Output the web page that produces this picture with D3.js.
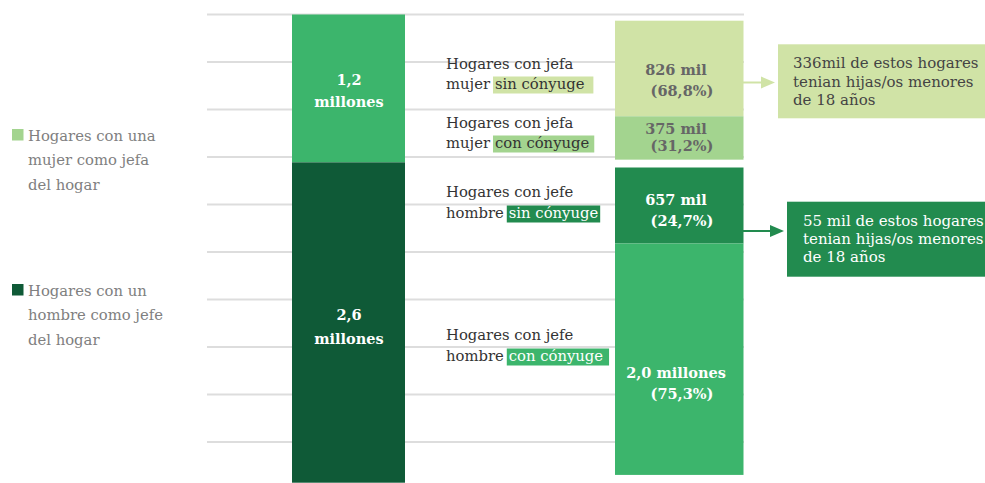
<!DOCTYPE html>
<html>
<head>
<meta charset="utf-8">
<script src="https://cdn.jsdelivr.net/npm/d3@7"></script>
<style>
  html, body { margin: 0; padding: 0; background: #fff; }
  svg { display: block; }
  text { font-family: "DejaVu Serif", serif; }
</style>
</head>
<body>
<svg id="chart" width="985" height="483"></svg>
<script>
// ---------------- DATA ----------------
const headCategories = ["mujer", "hombre"];
const headValues = [1.2, 2.6];                 // millions
const headLabels = [["1,2", "millones"], ["2,6", "millones"]];

const legendLabels = [
  ["Hogares con una", "mujer como jefa", "del hogar"],
  ["Hogares con un", "hombre como jefe", "del hogar"]
];

const subGroups = ["mujer", "mujer", "hombre", "hombre"];
const subCategories = ["sin cónyuge", "con cónyuge", "sin cónyuge", "con cónyuge"];
const subValues = [826, 375, 657, 2000];       // thousands
const subValueLabels = ["826 mil", "375 mil", "657 mil", "2,0 millones"];
const subPctLabels = ["(68,8%)", "(31,2%)", "(24,7%)", "(75,3%)"];
const subTitleLines = [
  ["Hogares con jefa", "mujer"],
  ["Hogares con jefa", "mujer"],
  ["Hogares con jefe", "hombre"],
  ["Hogares con jefe", "hombre"]
];

const calloutValues = [336, 55];
const calloutLines = [
  ["336mil de estos hogares", "tenian hijas/os menores", "de 18 años"],
  ["55 mil de estos hogares", "tenian hijas/os menores", "de 18 años"]
];

const gridLines = d3.range(10);

// ---------------- STYLE ----------------
const C = {
  medium: "#3cb56c",
  dark: "#0f5a37",
  lime: "#d0e3a6",
  light: "#a3d48f",
  deep: "#228b4f",
  grid: "#dddddd"
};
const headColors = [C.medium, C.dark];
const legendColors = [C.light, C.dark];
const subColors = [C.lime, C.light, C.deep, C.medium];
const subTextColors = ["#666666", "#666666", "#ffffff", "#ffffff"];
const highlightColors = [C.lime, C.light, C.deep, C.medium];
const highlightText = ["#333333", "#333333", "#ffffff", "#ffffff"];
const highlightPadR = [9, 5, 2, 6];
const calloutFill = [C.lime, C.deep];
const calloutText = ["#444444", "#ffffff"];

const svg = d3.select("#chart");

// gridlines
const yGrid = d3.scaleLinear().domain([0, 9]).range([14.5, 442]);
svg.append("g").selectAll("line").data(gridLines).join("line")
  .attr("x1", 207).attr("x2", 744)
  .attr("y1", d => yGrid(d)).attr("y2", d => yGrid(d))
  .attr("stroke", C.grid).attr("stroke-width", 2.2);

// left stacked bar
const yL = d3.scaleLinear().domain([0, d3.sum(headValues)]).range([14.5, 482.7]);
const headCum = d3.cumsum([0, ...headValues]);
const left = svg.append("g");
left.selectAll("rect").data(headValues).join("rect")
  .attr("x", 292).attr("width", 113)
  .attr("y", (d, i) => yL(headCum[i]))
  .attr("height", (d, i) => yL(headCum[i] + d) - yL(headCum[i]))
  .attr("fill", (d, i) => headColors[i]);

const headLabelY = [[85, 107], [320, 344]];
headLabels.forEach((lines, i) => {
  lines.forEach((t, j) => {
    left.append("text").attr("x", 349).attr("y", headLabelY[i][j])
      .attr("text-anchor", "middle").attr("fill", "#fff")
      .attr("font-weight", "bold").attr("font-size", 14.5).text(t);
  });
});

// legend
const legendY = [129, 284];
legendLabels.forEach((lines, i) => {
  const g = svg.append("g");
  g.append("rect").attr("x", 12).attr("y", legendY[i]).attr("width", 11.5).attr("height", 11.5)
    .attr("fill", legendColors[i]);
  lines.forEach((t, j) => {
    g.append("text").attr("x", 28).attr("y", legendY[i] + 12 + j * 24.3)
      .attr("fill", "#808080").attr("font-size", 14.8).text(t);
  });
});

// right stacked bars (two groups)
const yR = d3.scaleLinear().domain([0, 1000]).range([0, 115.7]);
const groupTop = { mujer: 20.7, hombre: 167.5 };
const subPos = [];
const acc = { mujer: 0, hombre: 0 };
subValues.forEach((v, i) => {
  const g = subGroups[i];
  const y0 = groupTop[g] + yR(acc[g]);
  const h = yR(v);
  subPos.push({ y0, h });
  acc[g] += v;
});
const right = svg.append("g");
right.selectAll("rect").data(subValues).join("rect")
  .attr("x", 615).attr("width", 128.5)
  .attr("y", (d, i) => subPos[i].y0)
  .attr("height", (d, i) => subPos[i].h)
  .attr("fill", (d, i) => subColors[i]);

const subLabelY = [[75, 96], [134, 151], [205, 226], [378, 399]];
subValues.forEach((v, i) => {
  right.append("text").attr("x", 676).attr("y", subLabelY[i][0])
    .attr("text-anchor", "middle").attr("fill", subTextColors[i])
    .attr("font-weight", "bold").attr("font-size", 14.5).text(subValueLabels[i]);
  right.append("text").attr("x", 682).attr("y", subLabelY[i][1])
    .attr("text-anchor", "middle").attr("fill", subTextColors[i])
    .attr("font-weight", "bold").attr("font-size", 14.5).text(subPctLabels[i]);
});

// middle category labels
const midY = [[69, 89], [128, 148], [197, 218], [340, 361]];
subTitleLines.forEach((lines, i) => {
  const g = svg.append("g");
  g.append("text").attr("x", 446).attr("y", midY[i][0])
    .attr("fill", "#333").attr("font-size", 14.8).text(lines[0]);
  const t2 = g.append("text").attr("x", 446).attr("y", midY[i][1])
    .attr("fill", "#333").attr("font-size", 14.8).text(lines[1]);
  const w = t2.node().getComputedTextLength();
  const hx = 446 + w + 3;
  const rect = g.append("rect");
  const hl = g.append("text").attr("x", hx + 2).attr("y", midY[i][1])
    .attr("fill", highlightText[i]).attr("font-size", 14.8).text(subCategories[i]);
  const hw = hl.node().getComputedTextLength();
  rect.attr("x", hx).attr("y", midY[i][1] - 12.5)
    .attr("width", hw + 2 + highlightPadR[i]).attr("height", 17)
    .attr("fill", highlightColors[i]);
});

// callouts
const calloutBox = [{ x: 778, y: 44.3, h: 74 }, { x: 787, y: 201.7, h: 75 }];
const arrowY = [82.5, 231];
calloutValues.forEach((v, k) => {
  const g = svg.append("g");
  const b = calloutBox[k];
  const hx = b.x - 3;
  g.append("line").attr("x1", 743).attr("x2", hx - 12)
    .attr("y1", arrowY[k]).attr("y2", arrowY[k])
    .attr("stroke", calloutFill[k]).attr("stroke-width", 2);
  g.append("path")
    .attr("d", `M${hx - 14},${arrowY[k] - 6} L${hx},${arrowY[k]} L${hx - 14},${arrowY[k] + 6} Z`)
    .attr("fill", calloutFill[k]);
  g.append("rect").attr("x", b.x).attr("y", b.y).attr("width", 985 - b.x).attr("height", b.h)
    .attr("fill", calloutFill[k]);
  calloutLines[k].forEach((t, j) => {
    g.append("text").attr("x", b.x + (k === 0 ? 15 : 16)).attr("y", b.y + 24 + j * 18.3)
      .attr("fill", calloutText[k]).attr("font-size", 15).text(t);
  });
});
</script>
</body>
</html>
